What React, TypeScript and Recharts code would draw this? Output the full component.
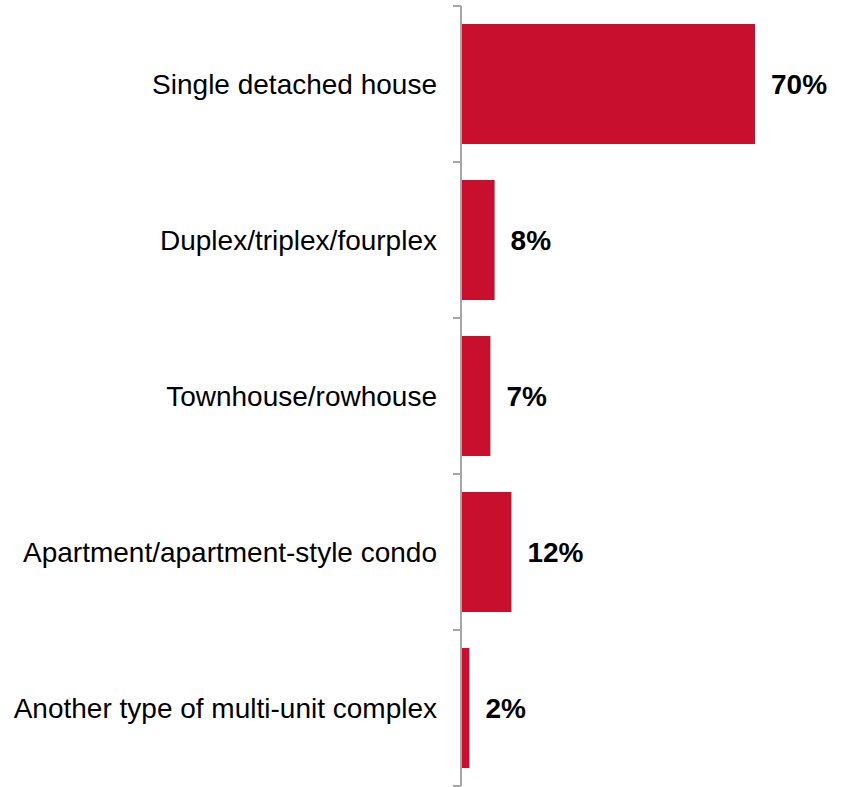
import React from "react";
import { BarChart, Bar, XAxis, YAxis, LabelList } from "recharts";

const categories = [
  "Single detached house",
  "Duplex/triplex/fourplex",
  "Townhouse/rowhouse",
  "Apartment/apartment-style condo",
  "Another type of multi-unit complex",
];
const values = [70, 8, 7, 12, 2];

const data = categories.map((name, i) => ({ name, value: values[i] }));

const WIDTH = 843;
const HEIGHT = 787;
const MARGIN = { top: 6, right: 46, bottom: 1, left: 0 };
const AXIS_W = 461;
const TICK_SIZE = 8;
const TICK_MARGIN = 16;
const BAND = (HEIGHT - MARGIN.top - MARGIN.bottom) / categories.length;
const FONT = "'Liberation Sans', Arial, sans-serif";
const AXIS_COLOR = "#A6A6A6";
const BAR_COLOR = "#C8102E";

const CategoryTick = (props: any) => {
  const { x, y, payload, index } = props;
  const axisX = x + TICK_SIZE + TICK_MARGIN;
  const top = y - BAND / 2;
  const bottom = y + BAND / 2;
  return (
    <g>
      <line x1={axisX - TICK_SIZE} y1={top} x2={axisX} y2={top} stroke={AXIS_COLOR} strokeWidth={2} />
      {index === categories.length - 1 && (
        <line x1={axisX - TICK_SIZE} y1={bottom} x2={axisX} y2={bottom} stroke={AXIS_COLOR} strokeWidth={2} />
      )}
      <text
        x={x}
        y={y}
        dy="0.36em"
        textAnchor="end"
        fill="#000"
        fontSize={28}
        fontFamily={FONT}
      >
        {payload.value}
      </text>
    </g>
  );
};

export default function App() {
  return (
    <div style={{ position: "absolute", left: 0, top: 0 }}>
      <BarChart
        width={WIDTH}
        height={HEIGHT}
        data={data}
        layout="vertical"
        margin={MARGIN}
        barCategoryGap={18}
      >
        <XAxis type="number" domain={[0, 80]} hide />
        <YAxis
          type="category"
          dataKey="name"
          width={AXIS_W}
          tickSize={TICK_SIZE}
          tickMargin={TICK_MARGIN}
          tickLine={false}
          axisLine={{ stroke: AXIS_COLOR, strokeWidth: 2 }}
          tick={<CategoryTick />}
          interval={0}
        />
        <Bar dataKey="value" fill={BAR_COLOR} isAnimationActive={false}>
          <LabelList
            dataKey="value"
            position="right"
            offset={16}
            formatter={(v: any) => `${v}%`}
            style={{ fontSize: 28, fontWeight: "bold", fontFamily: FONT, fill: "#000" }}
          />
        </Bar>
      </BarChart>
    </div>
  );
}
